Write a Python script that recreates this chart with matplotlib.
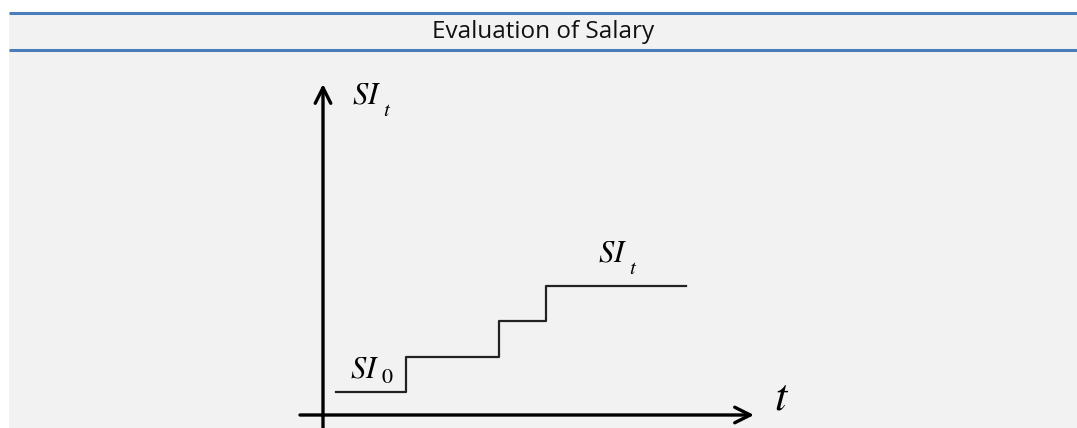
import matplotlib
matplotlib.use('Agg')
import matplotlib.pyplot as plt
from matplotlib.patches import Rectangle

plt.rcParams['mathtext.fontset'] = 'stix'

title = 'Evaluation of Salary'
# step function of salary over time (diagram units)
step_times = [13, 83, 176, 223, 363]
step_levels = [23, 58, 94, 129, 129]
# (main text, subscript)
label_start = ('SI', '0')
label_now = ('SI', 't')
label_yaxis = ('SI', 't')
label_xaxis = 't'

W, H = 1077, 428
fig = plt.figure(figsize=(W / 100, H / 100), dpi=100)
fig.patch.set_facecolor('white')

# background / title band
bg = fig.add_axes([0, 0, 1, 1])
bg.set_xlim(0, W)
bg.set_ylim(H, 0)
bg.axis('off')
bg.add_patch(Rectangle((9, 12), W - 9, H - 12, facecolor='#f2f2f2', edgecolor='none'))
blue = '#4a7ebb'
bg.plot([9, W], [13, 13], color=blue, lw=2.2, solid_capstyle='butt')
bg.plot([9, W], [50, 50], color=blue, lw=2.2, solid_capstyle='butt')
bg.text((9 + W) / 2, 32, title, ha='center', va='center', fontsize=17.5,
        family='Open Sans', color='#111111')

# diagram
ax = fig.add_axes([323 / W, (H - 415) / H, 431 / W, 331 / H])
ax.set_xlim(0, 431)
ax.set_ylim(0, 331)
ax.axis('off')
ax.patch.set_alpha(0)

arrow = dict(arrowstyle='->', lw=2.4, color='black', mutation_scale=28,
             shrinkA=0, shrinkB=0)
ax.annotate('', xy=(431, 0), xytext=(-23, 0), arrowprops=arrow, annotation_clip=False)
ax.annotate('', xy=(0, 331), xytext=(0, -14), arrowprops=arrow, annotation_clip=False)

ax.plot(step_times, step_levels, drawstyle='steps-post', color='#222222', lw=1.6, clip_on=False)


def sub_label(x, y, parts, dy):
    main, sub = parts
    t = ax.text(x, y, '$' + main + '$', fontsize=22, ha='left', va='baseline')
    if sub.isdigit():
        s = '$\\mathrm{' + sub + '}$'
        fs = 16
    else:
        s = '$' + sub + '$'
        fs = 15
    ax.annotate(s, xy=(1, 0), xycoords=t, xytext=(2, dy), textcoords='offset pixels',
                fontsize=fs, ha='left', va='bottom')


sub_label(29, 311, label_yaxis, -10)
sub_label(27, 38, label_start, -4)
sub_label(275, 153, label_now, -10)
ax.text(451, 5, '$' + label_xaxis + '$', fontsize=32, ha='left', va='baseline')

fig.savefig('out.png', dpi=100, facecolor=fig.get_facecolor())
